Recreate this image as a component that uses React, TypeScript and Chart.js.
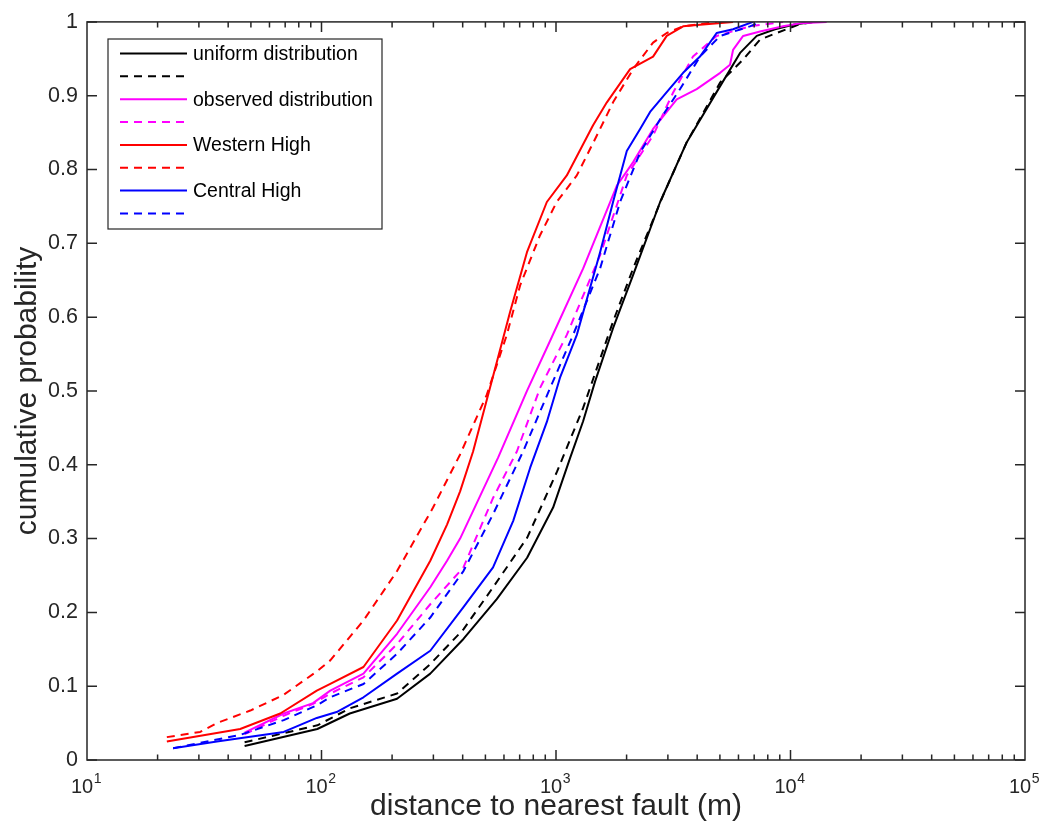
import React, { useEffect, useRef } from 'react';
import { Chart, registerables } from 'chart.js';

Chart.register(...registerables);

// distance to nearest fault (m) and cumulative probability
const uniformSolidD = [47, 96, 132, 210, 291, 403, 559, 753, 972, 1148, 1305, 1468, 1751, 2131, 2780, 3611, 5012, 6095, 7178, 8590, 10250, 12350];
const uniformSolidP = [0.019, 0.042, 0.063, 0.083, 0.117, 0.164, 0.218, 0.274, 0.342, 0.409, 0.459, 0.513, 0.585, 0.657, 0.756, 0.837, 0.913, 0.958, 0.981, 0.990, 0.996, 1.0];

const uniformDashD = [47, 96, 132, 210, 291, 403, 539, 753, 1011, 1305, 1751, 2133, 2863, 3611, 5012, 6281, 7413, 8730, 10970, 12720];
const uniformDashP = [0.024, 0.047, 0.070, 0.090, 0.130, 0.177, 0.234, 0.301, 0.391, 0.477, 0.594, 0.666, 0.765, 0.837, 0.918, 0.949, 0.976, 0.985, 0.997, 1.0];

const observedSolidD = [47, 69, 92, 109, 151, 210, 291, 343, 390, 567, 752, 944, 1306, 1816, 2133, 2594, 3273, 3981, 5012, 5521, 5689, 6281, 7413, 9290, 10970, 14260];
const observedSolidP = [0.037, 0.063, 0.077, 0.094, 0.117, 0.171, 0.234, 0.270, 0.300, 0.410, 0.500, 0.568, 0.666, 0.778, 0.810, 0.855, 0.895, 0.909, 0.931, 0.942, 0.962, 0.981, 0.987, 0.994, 0.998, 1.0];

const observedDashD = [47, 69, 92, 109, 151, 210, 291, 403, 539, 681, 855, 1112, 1542, 2004, 2594, 3155, 3838, 4842, 6718, 9290];
const observedDashP = [0.035, 0.060, 0.076, 0.090, 0.112, 0.157, 0.211, 0.261, 0.355, 0.418, 0.504, 0.576, 0.684, 0.792, 0.846, 0.904, 0.953, 0.981, 0.994, 1.0];

const westernSolidD = [21.9, 45, 66.7, 95.5, 109, 151, 210, 291, 343, 390, 443, 532, 637, 752, 914, 1112, 1439, 1648, 2070, 2594, 2966, 3484, 4112, 5689];
const westernSolidP = [0.025, 0.042, 0.063, 0.094, 0.103, 0.126, 0.189, 0.270, 0.319, 0.364, 0.418, 0.513, 0.607, 0.688, 0.756, 0.792, 0.860, 0.891, 0.936, 0.953, 0.981, 0.994, 0.996, 1.0];

const westernDashD = [21.9, 30.4, 35.8, 49.7, 68.7, 95.5, 109, 151, 210, 299, 390, 507, 617, 703, 855, 1007, 1227, 1493, 1751, 2133, 2594, 2966, 3484, 4842];
const westernDashP = [0.031, 0.038, 0.050, 0.067, 0.088, 0.120, 0.135, 0.189, 0.256, 0.342, 0.414, 0.495, 0.576, 0.643, 0.711, 0.756, 0.792, 0.846, 0.891, 0.936, 0.972, 0.985, 0.994, 1.0];

const centralSolidD = [23.3, 35.8, 69, 95.5, 116, 151, 210, 291, 403, 539, 657, 776, 914, 1040, 1227, 1542, 1751, 2004, 2284, 2519, 2966, 3484, 4112, 4842, 5689, 6920];
const centralSolidP = [0.016, 0.025, 0.038, 0.057, 0.065, 0.085, 0.117, 0.148, 0.207, 0.261, 0.324, 0.396, 0.458, 0.518, 0.576, 0.688, 0.756, 0.825, 0.855, 0.878, 0.905, 0.931, 0.953, 0.985, 0.990, 1.0];

const centralDashD = [23.3, 45, 69, 95.5, 109, 151, 210, 291, 403, 539, 724, 944, 1183, 1542, 1876, 2284, 2780, 3381, 4112, 5012, 6718, 7413];
const centralDashP = [0.016, 0.034, 0.054, 0.074, 0.085, 0.103, 0.144, 0.193, 0.256, 0.333, 0.418, 0.504, 0.576, 0.666, 0.756, 0.823, 0.868, 0.909, 0.953, 0.981, 0.994, 1.0];

const legendLabels = ['uniform distribution', '', 'observed distribution', '', 'Western High', '', 'Central High', ''];
const seriesColors = ['#000000', '#000000', '#ff00ff', '#ff00ff', '#ff0000', '#ff0000', '#0000ff', '#0000ff'];
const seriesDashed = [false, true, false, true, false, true, false, true];

const xTitle = 'distance to nearest fault (m)';
const yTitle = 'cumulative probability';
const xMin = 10;
const xMax = 100000;
const decadeExponents = [1, 2, 3, 4, 5];

const AXIS = '#262626';
const FONT = "'Liberation Sans', Arial, Helvetica, sans-serif";
const DASH = [8, 6];
const LINE_W = 2;

const seriesD = [uniformSolidD, uniformDashD, observedSolidD, observedDashD, westernSolidD, westernDashD, centralSolidD, centralDashD];
const seriesP = [uniformSolidP, uniformDashP, observedSolidP, observedDashP, westernSolidP, westernDashP, centralSolidP, centralDashP];

const framePlugin = {
  id: 'matlabFrame',
  afterDraw(chart: any) {
    const ctx = chart.ctx;
    const { left, right, top, bottom } = chart.chartArea;
    const xs = chart.scales.x;
    const ys = chart.scales.y;
    ctx.save();
    ctx.strokeStyle = AXIS;
    ctx.lineWidth = 1.5;
    ctx.setLineDash([]);
    ctx.beginPath();
    for (let v = 0; v <= 10; v++) {
      const py = ys.getPixelForValue(v / 10);
      ctx.moveTo(left, py); ctx.lineTo(left + 10, py);
      ctx.moveTo(right, py); ctx.lineTo(right - 10, py);
    }
    for (let e = 1; e <= 4; e++) {
      for (let k = 1; k <= 9; k++) {
        const val = k * Math.pow(10, e);
        if (val <= xMin || val >= xMax) continue;
        const px = xs.getPixelForValue(val);
        const len = k === 1 ? 10 : 5.5;
        ctx.moveTo(px, bottom); ctx.lineTo(px, bottom - len);
        ctx.moveTo(px, top); ctx.lineTo(px, top + len);
      }
    }
    ctx.stroke();
    ctx.strokeRect(left, top, right - left, bottom - top);

    // x tick labels 10^n
    ctx.fillStyle = AXIS;
    ctx.textBaseline = 'alphabetic';
    ctx.textAlign = 'left';
    decadeExponents.forEach((e) => {
      const px = xs.getPixelForValue(Math.pow(10, e));
      ctx.font = `20px ${FONT}`;
      const wb = ctx.measureText('10').width;
      ctx.font = `14px ${FONT}`;
      const we = ctx.measureText(String(e)).width;
      const x0 = px - (wb + we) / 2 - 1;
      ctx.font = `20px ${FONT}`;
      ctx.fillText('10', x0, 793);
      ctx.font = `14px ${FONT}`;
      ctx.fillText(String(e), x0 + wb + 0.5, 783);
    });

    // legend
    const lx = 108, ly = 39, lw = 274, lh = 190;
    ctx.fillStyle = '#ffffff';
    ctx.fillRect(lx, ly, lw, lh);
    ctx.lineWidth = 1.2;
    ctx.strokeStyle = AXIS;
    ctx.strokeRect(lx, ly, lw, lh);
    ctx.font = `19.5px ${FONT}`;
    ctx.textBaseline = 'middle';
    chart.data.datasets.forEach((ds: any, i: number) => {
      const cy = 53.5 + i * 22.85;
      ctx.beginPath();
      ctx.strokeStyle = ds.borderColor;
      ctx.lineWidth = LINE_W;
      ctx.setLineDash(ds.borderDash || []);
      ctx.moveTo(120, cy);
      ctx.lineTo(seriesDashed[i] ? 184 : 187, cy);
      ctx.stroke();
      ctx.setLineDash([]);
      if (ds.label) {
        ctx.fillStyle = '#000000';
        ctx.fillText(ds.label, 193, cy + 1);
      }
    });
    ctx.restore();
  },
};

export default function App() {
  const ref = useRef<HTMLCanvasElement | null>(null);
  useEffect(() => {
    if (!ref.current) return;
    const datasets = seriesD.map((dArr, i) => ({
      label: legendLabels[i],
      data: dArr.map((d, j) => ({ x: d, y: seriesP[i][j] })),
      borderColor: seriesColors[i],
      backgroundColor: seriesColors[i],
      borderWidth: LINE_W,
      borderDash: seriesDashed[i] ? DASH : [],
      borderJoinStyle: 'round',
      pointRadius: 0,
      showLine: true,
      tension: 0,
      fill: false,
      order: 10 - i,
    }));
    const chart = new Chart(ref.current, {
      type: 'scatter',
      data: { datasets },
      plugins: [framePlugin],
      options: {
        animation: false,
        responsive: false,
        layout: { padding: { left: 0, top: 19, right: 22, bottom: 0 } },
        plugins: { legend: { display: false }, tooltip: { enabled: false } },
        scales: {
          x: {
            type: 'logarithmic',
            min: xMin,
            max: xMax,
            grid: { display: false, drawTicks: false },
            border: { display: false },
            ticks: { display: false },
            title: {
              display: true,
              text: xTitle,
              color: AXIS,
              font: { family: FONT, size: 30 },
              padding: { top: 0, bottom: 13 },
            },
            afterFit: (s: any) => { s.height = 78; },
          },
          y: {
            type: 'linear',
            min: 0,
            max: 1,
            grid: { display: false, drawTicks: false },
            border: { display: false },
            ticks: {
              stepSize: 0.1,
              color: AXIS,
              padding: 9,
              font: { family: FONT, size: 21.5 },
              callback: (v: any) => String(Math.round(Number(v) * 10) / 10),
            },
            title: {
              display: true,
              text: yTitle,
              color: AXIS,
              font: { family: FONT, size: 30 },
              padding: { top: 10, bottom: 0 },
            },
            afterFit: (s: any) => { s.width = 87; },
          },
        },
      },
    } as any);
    return () => chart.destroy();
  }, []);
  return (
    <div style={{ position: 'absolute', left: 0, top: 0, width: 1047, height: 838, background: '#fff' }}>
      <canvas ref={ref} width={1047} height={838} />
    </div>
  );
}
